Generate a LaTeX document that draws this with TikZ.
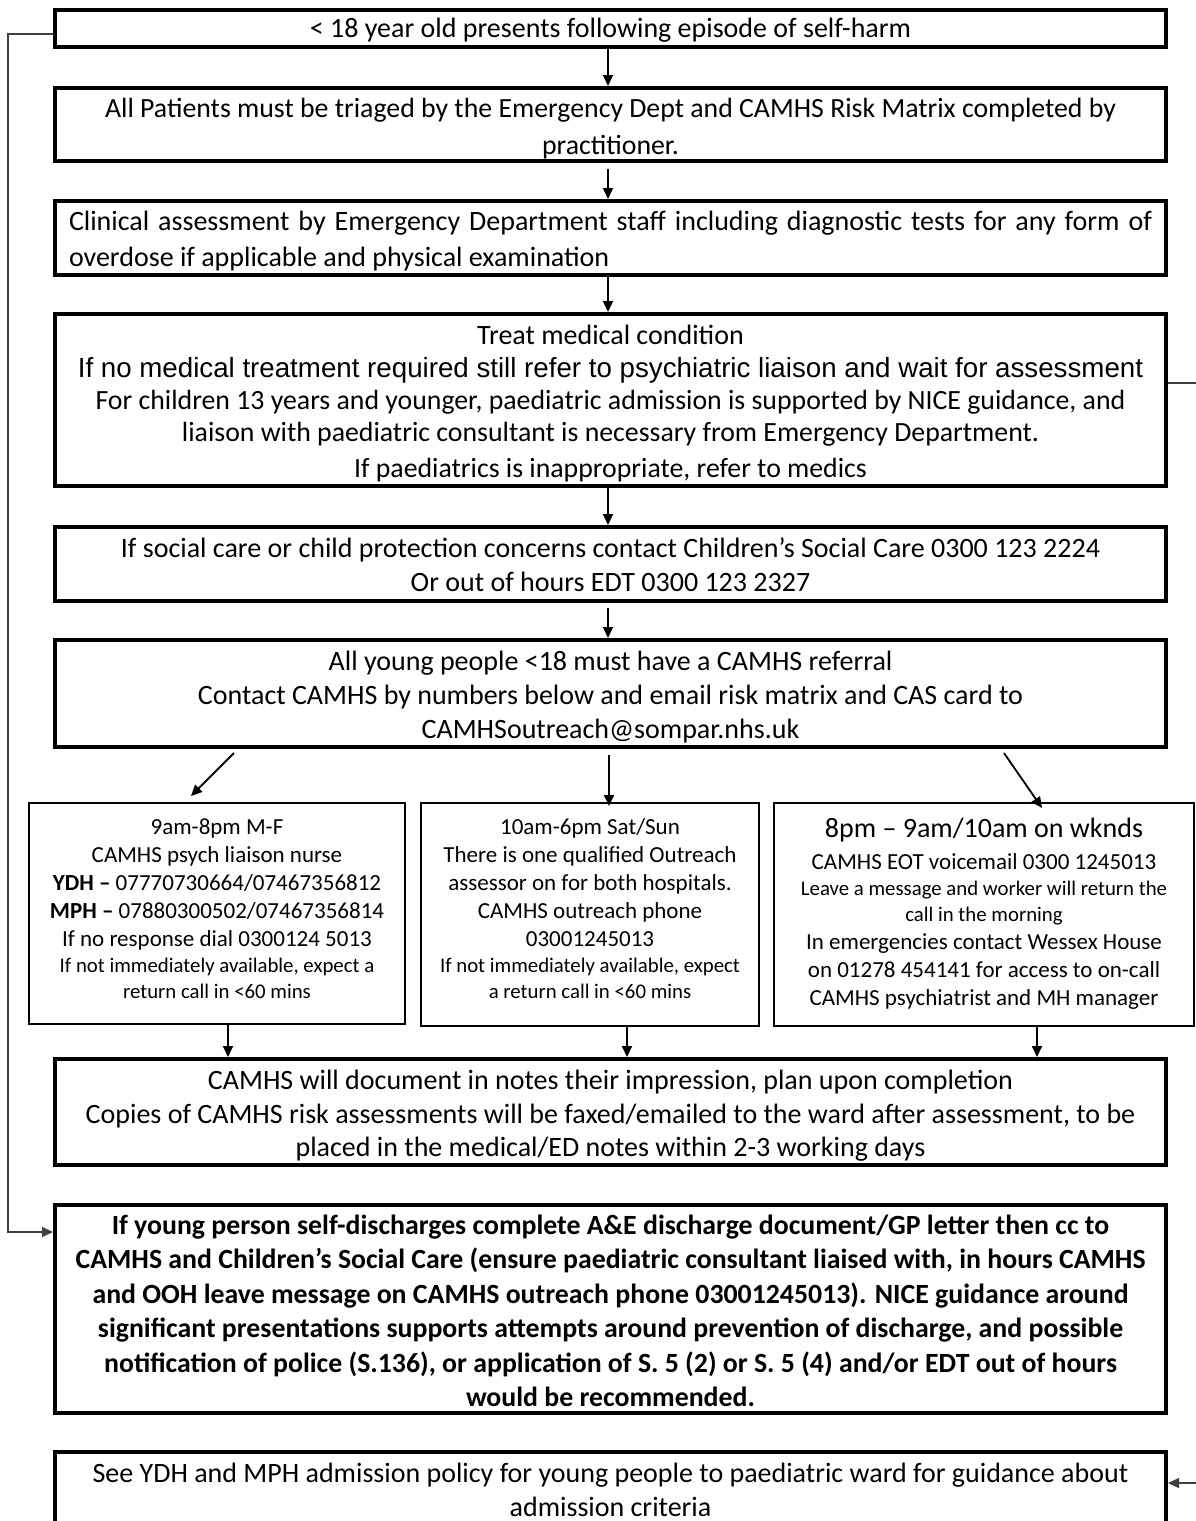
\documentclass[tikz,border=0pt]{standalone}
\usepackage{fontspec}
\setmainfont{Carlito}
\newfontfamily\arialf{Liberation Sans}
\usetikzlibrary{arrows.meta,calc}
\setlength\parindent{0pt}
\newcommand\fsz[2]{\fontsize{#1}{#2}\selectfont}
\newcommand\dstrut[1]{\rule[-#1]{0pt}{#1}}
\begin{document}
\begin{tikzpicture}[x=1pt,y=-1pt,
  bigbox/.style={draw, line width=4pt, minimum width=1111pt, inner sep=0pt,
    text width=1100pt, align=flush center},
  lower/.style={execute at begin node={\rule{0pt}{#1}}},
  smallbox/.style={draw, line width=2pt, inner sep=0pt, align=flush center},
  arr/.style={line width=1.8pt, -{Triangle[length=11pt,width=10pt]}},
  side/.style={line width=1.3pt, draw=black!75, -{Triangle[length=11pt,width=10pt]}}]
\useasboundingbox (0,0) rectangle (1196,1521);
\fill[white] (0,0) rectangle (1196,1521);
\clip (0,0) rectangle (1196,1521);

\node[bigbox, lower=23pt, minimum height=37pt, font=\fsz{28}{36}] (b1) at (610.5,28.5)
  {< 18 year old presents following episode of self-harm};

\node[bigbox, lower=27pt, minimum height=73pt, font=\fsz{27.8}{37}] (b2) at (610.5,124.5)
  {All Patients must be triaged by the Emergency Dept and CAMHS Risk Matrix completed by\\ practitioner.};

\node[bigbox, lower=26pt, minimum height=74pt, text width=1083pt, align=flush left, font=\fsz{28}{36}] (b3) at (610.5,238)
  {\makebox[\linewidth][s]{Clinical assessment by Emergency Department staff including diagnostic tests for any form of}\\ overdose if applicable and physical examination};

\node[bigbox, lower=26pt, minimum height=172pt, font=\fsz{28}{33}] (b4) at (610.5,400)
  {{\fsz{28}{33}Treat medical condition\par}
   {\arialf\fsz{27.7}{33}If no medical treatment required still refer to psychiatric liaison and wait for assessment\par}
   {\fsz{27.8}{32}For children 13 years and younger, paediatric admission is supported by NICE guidance, and\par
    liaison with paediatric consultant is necessary from Emergency Department.\par}
   {\fsz{27.8}{36}If paediatrics is inappropriate, refer to medics\par}};

\node[bigbox, lower=22pt, minimum height=74pt, font=\fsz{28}{34}] (b5) at (610.5,564)
  {If social care or child protection concerns contact Children’s Social Care 0300 123 2224\\ Or out of hours EDT 0300 123 2327};

\node[bigbox, lower=27pt, minimum height=107pt, font=\fsz{28}{34}] (b6) at (610.5,693.5)
  {All young people <18 must have a CAMHS referral\\ Contact CAMHS by numbers below and email risk matrix and CAS card to\\ CAMHSoutreach@sompar.nhs.uk};

\node[smallbox, minimum width=376pt, minimum height=221pt, text width=370pt, font=\fsz{23}{28}] (bA) at (217,913.5)
  {{\fsz{23}{28}9am-8pm M-F\par CAMHS psych liaison nurse\par \textbf{YDH –} 07770730664/07467356812\par
    \textbf{MPH –} 07880300502/07467356814\par If no response dial 0300124 5013\par}
   {\fsz{20.8}{26}If not immediately available, expect a\par return call in <60 mins\dstrut{10pt}\par}};

\node[smallbox, minimum width=338pt, minimum height=223pt, text width=334pt, font=\fsz{23}{28}] (bB) at (590,914.5)
  {{\fsz{23}{28}10am-6pm Sat/Sun\par There is one qualified Outreach\par assessor on for both hospitals.\par
    CAMHS outreach phone\par 03001245013\par}
   {\fsz{20.8}{26}If not immediately available, expect\par a return call in <60 mins\dstrut{11pt}\par}};

\node[smallbox, minimum width=420pt, minimum height=223pt, text width=414pt, font=\fsz{23}{28}] (bC) at (984,914.5)
  {{\fsz{28}{30}8pm – 9am/10am on wknds\par}
   {\fsz{23}{32}CAMHS EOT voicemail 0300 1245013\par}
   {\fsz{20.8}{26}Leave a message and worker will return the\par call in the morning\par}
   {\fsz{23}{28}In emergencies contact Wessex House\par on 01278 454141 for access to on-call\par CAMHS psychiatrist and MH manager\dstrut{6pt}\par}};

\node[bigbox, lower=27pt, minimum height=106pt, font=\fsz{28}{33.5}] (b7) at (610.5,1112)
  {CAMHS will document in notes their impression, plan upon completion\\
   Copies of CAMHS risk assessments will be faxed/emailed to the ward after assessment, to be\\
   placed in the medical/ED notes within 2-3 working days};

\node[bigbox, lower=23pt, minimum height=208pt, font=\bfseries\fsz{27.8}{34.4}] (b8) at (610.5,1309)
  {If young person self-discharges complete A\&E discharge document/GP letter then cc to\\
   CAMHS and Children’s Social Care (ensure paediatric consultant liaised with, in hours CAMHS\\
   and OOH leave message on CAMHS outreach phone 03001245013). NICE guidance around\\
   significant presentations supports attempts around prevention of discharge, and possible\\
   notification of police (S.136), or application of S. 5 (2) or S. 5 (4) and/or EDT out of hours\\
   would be recommended.};

\node[bigbox, minimum height=76pt, font=\fsz{28}{34}] (b9) at (610.5,1490)
  {See YDH and MPH admission policy for young people to paediatric ward for guidance about\\ admission criteria};

% main vertical arrows
\draw[arr] ($(b1.south)+(-2.5,0)$) -- ($(b2.north)+(-2.5,0)$);
\draw[arr] ($(b2.south)+(-2.5,6)$) -- ($(b3.north)+(-2.5,0)$);
\draw[arr] ($(b3.south)+(-2.5,0)$) -- ($(b4.north)+(-2.5,0)$);
\draw[arr] ($(b4.south)+(-2.5,0)$) -- ($(b5.north)+(-2.5,0)$);
\draw[arr] ($(b5.south)+(-2.5,5)$) -- ($(b6.north)+(-2.5,0)$);

% branches to the three contact boxes
\draw[arr] ($(b6.south)+(-376.5,4)$) -- ($(bA.north)+(-26,-6)$);
\draw[arr] ($(b6.south)+(-1.5,6)$) -- ($(bB.north)+(19,4)$);
\draw[arr] ($(b6.south)+(393.5,4)$) -- ($(bC.north)+(58,6)$);

% contact boxes to b7
\draw[arr] ($(bA.south)+(11,0)$) -- ($(bA.south |- b7.north)+(11,0)$);
\draw[arr] ($(bB.south)+(37,0)$) -- ($(bB.south |- b7.north)+(37,0)$);
\draw[arr] ($(bC.south)+(53,0)$) -- ($(bC.south |- b7.north)+(53,0)$);

% left side connector: b1 -> b8
\draw[side] ($(b1.west)+(0,5.5)$) -- ++(-45,0) |- ($(b8.north west)+(0,29)$);
% right side connector: b4 -> b9 (runs off the page edge)
\draw[side] ($(b4.east)+(0,-17)$) -- ++(60,0) |- ($(b9.north east)+(0,33)$);
\end{tikzpicture}
\end{document}
